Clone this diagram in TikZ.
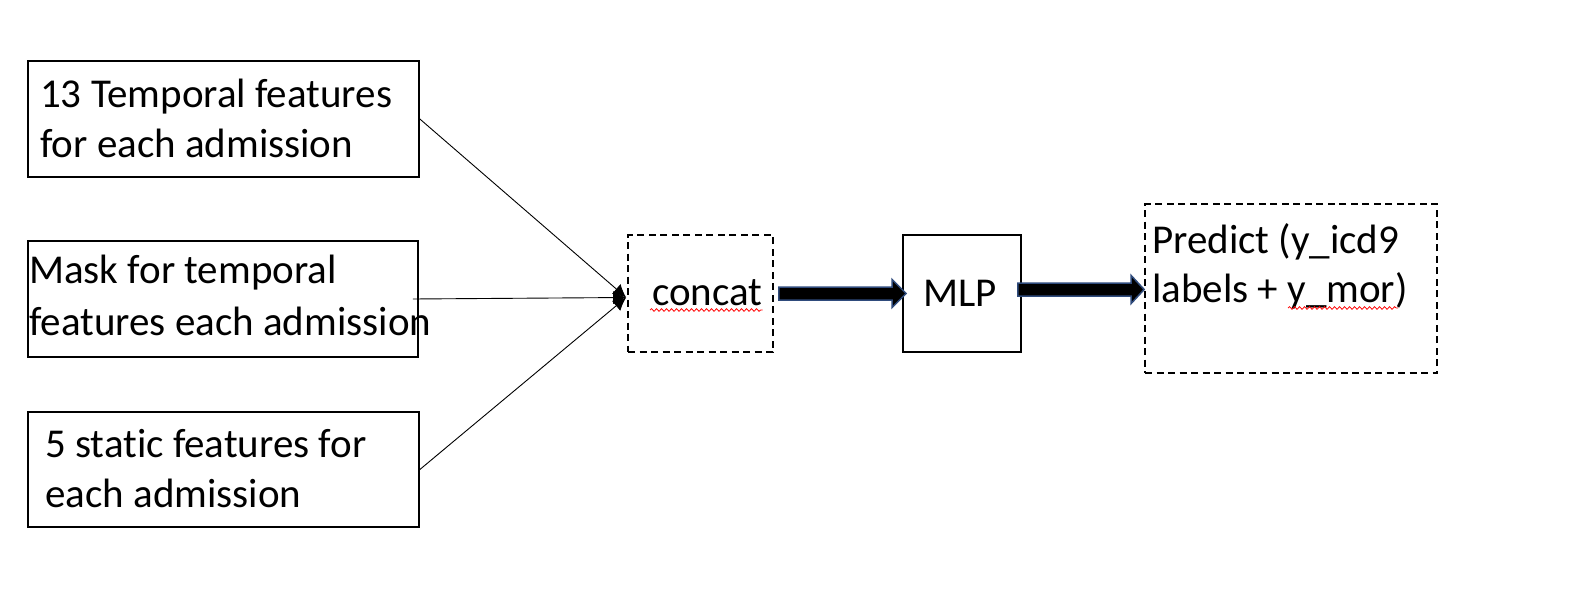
\documentclass[tikz,border=0pt]{standalone}
\usepackage{fontspec}
\setmainfont{Carlito}[Ligatures=NoCommon]
\usetikzlibrary{arrows.meta,calc,decorations.pathmorphing}
\definecolor{arrowblue}{HTML}{2F4B7C}
\begin{document}
\begin{tikzpicture}[x=1pt,y=-1pt,
  box/.style={draw, line width=1.7pt, inner sep=0pt},
  dbox/.style={draw, line width=1.7pt, dash pattern=on 7pt off 4.5pt, inner sep=0pt},
  txt/.style={font=\fontsize{41}{49}\selectfont, inner sep=0pt, anchor=base west},
  thinarrow/.style={line width=0.9pt, -{Latex[length=13pt,width=13pt]}},
  fatarrow/.style={fill=black, draw=arrowblue, line width=1.5pt, line join=miter},
  squig/.style={draw=red, line width=0.8pt, decorate, decoration={snake, amplitude=1.3pt, segment length=5pt}}]
\useasboundingbox (0,0) rectangle (1580,610);
% boxes
\node[box, minimum width=391pt, minimum height=116pt] (t1) at (223.5,119) {};
\node[box, minimum width=390pt, minimum height=116pt] (t2) at (223,299) {};
\node[box, minimum width=391pt, minimum height=115pt] (t3) at (223.5,469.5) {};
\node[dbox, minimum width=145pt, minimum height=117pt] (concat) at (700.5,293.5) {};
\node[box, minimum width=118pt, minimum height=117pt] (mlp) at (962,293.5) {};
\node[dbox, minimum width=292pt, minimum height=169pt] (pred) at (1291,288.5) {};
% texts
\node[txt] (l1a) at (40,107) {13 Temporal features};
\node[txt] (l1b) at (40,157) {for each admission};
\node[txt] (l2a) at (29,283) {Mask for temporal};
\node[txt] (l2b) at (29,335) {features each admission};
\node[txt] (l3a) at (45,457) {5 static features for};
\node[txt] (l3b) at (45,507) {each admission};
\node[txt] (ct) at (652,305) {concat};
\node[txt, anchor=base] (mt) at (960,306) {MLP};
\node[txt] (pa) at (1152,253) {Predict (y\_icd9};
\node[txt] (pb) at (1152,302) {labels + y\_mor)};
% spell-check squiggles
\draw[squig] ($(ct.base west)+(-2,5)$) -- ($(ct.base east)+(0,5)$);
\draw[squig] (1288,308) -- (1398,308);
% thin arrows
\coordinate (cin) at ($(concat.west)+(-1,4)$);
\draw[thinarrow] (t1.east) -- (cin);
\draw[thinarrow] ([xshift=-6pt]t2.east) -- (cin);
\draw[thinarrow] (t3.east) -- (cin);
% fat arrows
\draw[fatarrow] ($(concat.east)+(5,-6.5)$) -- ($(mlp.west)+(-10,-6.5)$) -- ($(mlp.west)+(-10,-14)$) -- ($(mlp.west)+(4,0)$) -- ($(mlp.west)+(-10,14)$) -- ($(mlp.west)+(-10,6.5)$) -- ($(concat.east)+(5,6.5)$) -- cycle;
\coordinate (p) at ($(pred.west)+(0,1)$);
\coordinate (q) at (mlp.east |- p);
\draw[fatarrow] ($(q)+(-4,-6.5)$) -- ($(p)+(-13,-6.5)$) -- ($(p)+(-13,-14)$) -- (p) -- ($(p)+(-13,14)$) -- ($(p)+(-13,6.5)$) -- ($(q)+(-4,6.5)$) -- cycle;
\end{tikzpicture}
\end{document}
